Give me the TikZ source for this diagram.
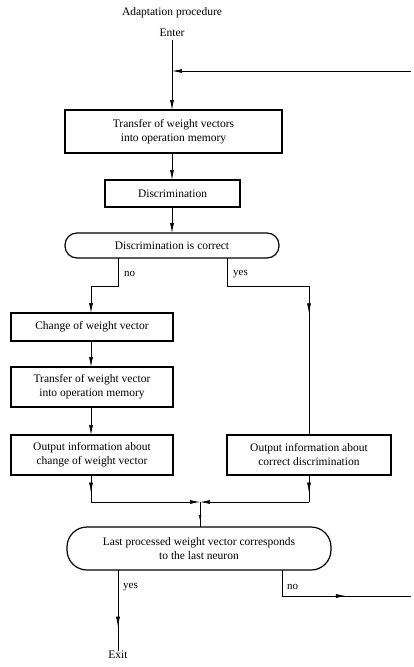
\documentclass[tikz,border=0pt]{standalone}
\usepackage{fontspec}
\setmainfont{Liberation Serif}
\usetikzlibrary{arrows.meta,decorations.markings}
\begin{document}
\begin{tikzpicture}[x=1pt,y=-1pt,
  every node/.style={font=\fontsize{11.5}{14}\selectfont, inner sep=0pt},
  box/.style={draw, line width=1.2pt, align=center, anchor=center},
  rbox/.style={box, rounded corners=#1},
  conn/.style={line width=0.7pt},
  tip/.style={-{Latex[length=10pt,width=4pt]}},
  midarrow/.style={decoration={markings, mark=at position #1 with {\arrow{Latex[length=10pt,width=4pt]}}}, postaction={decorate}},
  lbl/.style={font=\fontsize{11}{13}\selectfont, anchor=west}]
\useasboundingbox (0,0) rectangle (413,667);
% texts
\node (title) at (172,13) {Adaptation procedure};
\node (enter) at (172,33) {Enter};
\node (exit) at (118,655) {Exit};
% boxes
\node[box, minimum width=217pt, minimum height=43pt] (b1) at (173.5,131.5) {Transfer of weight vectors\\into operation memory};
\node[box, minimum width=135pt, minimum height=27pt] (b2) at (172.5,193.5) {Discrimination};
\node[rbox=12pt, minimum width=214pt, minimum height=25pt] (b3) at (172,245.5) {Discrimination is correct};
\node[box, minimum width=162pt, minimum height=28pt] (b4) at (92,327) {Change of weight vector};
\node[box, minimum width=162pt, minimum height=40pt] (b5) at (92,387) {Transfer of weight vector\\into operation memory};
\node[box, minimum width=162pt, minimum height=40pt] (b6) at (92,455) {Output information about\\change of weight vector};
\node[box, minimum width=164pt, minimum height=40pt] (b7) at (309,455) {Output information about\\correct discrimination};
\node[rbox=20pt, minimum width=264pt, minimum height=43pt] (b8) at (199,548.5) {Last processed weight vector corresponds\\to the last neuron};
% coordinates
\coordinate (join) at (172,71);
\coordinate (loopin) at (411,71);
\coordinate (loopout) at (411,596);
\coordinate (merge) at (200,502);
% connectors
\draw[conn, tip] (enter.south) ++(0,3) -- (172,110);
\draw[conn, tip] (loopin) -- (join);
\draw[conn, tip] (172,153) -- (172,180);
\draw[conn, tip] (172,207) -- (172,233);
\draw[conn, tip] (118,258) -- (118,286) -- (91,286) -- (91,313);
\draw[conn, midarrow=0.53] (227,258) -- (227,286) -- (309,286) -- (309,435);
\draw[conn, tip] (91,341) -- (91,367);
\draw[conn, tip] (91,407) -- (91,435);
\draw[conn, midarrow=0.65] (91,475) -- (91,502);
\draw[conn, tip] (91,502) -- (merge);
\draw[conn, midarrow=0.65] (309,475) -- (309,502);
\draw[conn, tip] (309,502) -- (merge);
\draw[conn, decoration={markings, mark=at position 0.75 with {\arrow{Latex[length=6pt,width=3pt,open]}}}, postaction={decorate}] (merge) -- (200,527);
\draw[conn, midarrow=0.7] (118,570) -- (exit.north);
\draw[conn, midarrow=0.58] (282,570) -- (282,596) -- (loopout);
% labels
\node[lbl] (lno1) at (124,274) {no};
\node[lbl] (lyes1) at (233,274) {yes};
\node[lbl] (lyes2) at (123,587) {yes};
\node[lbl] (lno2) at (287,587) {no};
\end{tikzpicture}
\end{document}
